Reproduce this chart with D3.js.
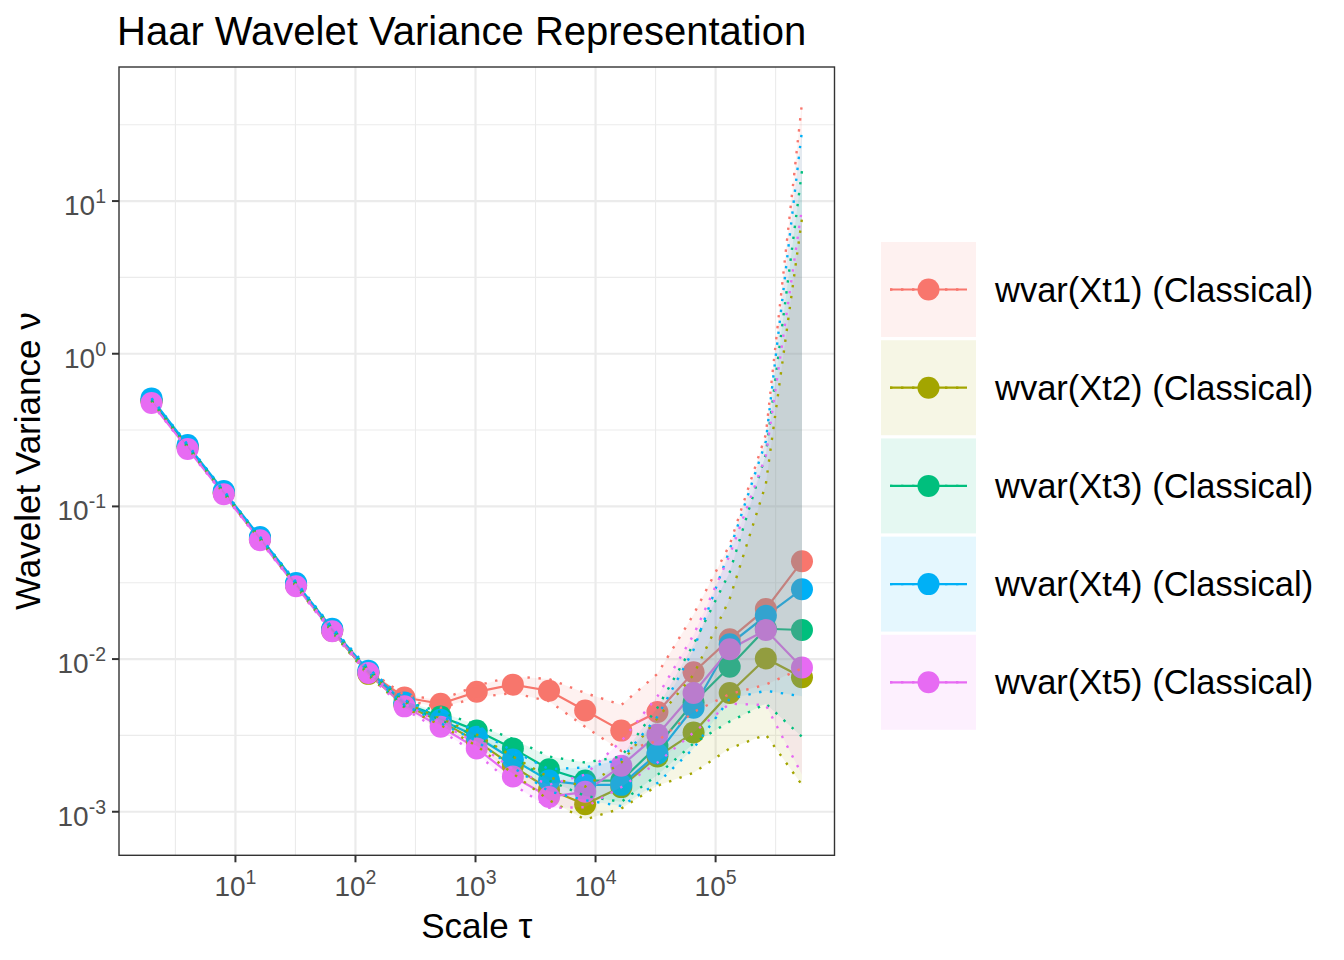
<!DOCTYPE html>
<html>
<head>
<meta charset="utf-8">
<script src="https://cdn.jsdelivr.net/npm/d3@7"></script>
<style>
  body { margin: 0; background: #fff; }
  svg text { font-family: "Liberation Sans", Arial, Helvetica, sans-serif; }
</style>
</head>
<body>
<svg id="chart" width="1344" height="960"></svg>
<script>
// ====== Data ======
const scales = [2, 4, 8, 16, 32, 64, 128, 256, 512, 1024, 2048, 4096, 8192,
  16384, 32768, 65536, 131072, 262144, 524288];

const seriesNames = ["wvar(Xt1) (Classical)", "wvar(Xt2) (Classical)", "wvar(Xt3) (Classical)",
  "wvar(Xt4) (Classical)", "wvar(Xt5) (Classical)"];
const colors = ["#F8766D", "#A3A500", "#00BF7D", "#00B0F6", "#E76BF3"];

// wavelet variance estimates
const xt1 = [0.49, 0.245, 0.123, 0.0615, 0.0305, 0.0155, 0.0082, 0.0056, 0.0051, 0.0061, 0.0068, 0.0062, 0.0046, 0.0034, 0.0045, 0.0082, 0.0135, 0.0213, 0.0437];
const xt2 = [0.49, 0.245, 0.122, 0.061, 0.0305, 0.0153, 0.0080, 0.0050, 0.0039, 0.0029, 0.0020, 0.0014, 0.00112, 0.00145, 0.0023, 0.0033, 0.0060, 0.0101, 0.0076];
const xt3 = [0.495, 0.247, 0.124, 0.062, 0.031, 0.0156, 0.0082, 0.0051, 0.0042, 0.0034, 0.0026, 0.0019, 0.0016, 0.0016, 0.0027, 0.0052, 0.0089, 0.0158, 0.0155];
const xt4 = [0.51, 0.252, 0.126, 0.063, 0.0315, 0.0158, 0.0084, 0.0052, 0.0040, 0.0031, 0.0022, 0.0016, 0.0015, 0.0015, 0.0024, 0.0048, 0.0125, 0.0192, 0.0287];
const xt5 = [0.475, 0.238, 0.120, 0.060, 0.030, 0.0152, 0.0081, 0.0049, 0.0036, 0.0026, 0.0017, 0.00125, 0.00135, 0.0020, 0.0032, 0.0060, 0.0116, 0.0155, 0.0088];

// lower CI bounds
const xt1Low = [0.488, 0.243, 0.122, 0.0607, 0.0300, 0.0152, 0.0080, 0.0054, 0.0048, 0.0056, 0.0060, 0.0053, 0.0036, 0.0025, 0.0029, 0.0045, 0.0059, 0.0068, 0.0087];
const xt2Low = [0.488, 0.243, 0.121, 0.0605, 0.0300, 0.0150, 0.0078, 0.0048, 0.0037, 0.0027, 0.00178, 0.00119, 0.00089, 0.00105, 0.00148, 0.0018, 0.0026, 0.0032, 0.0015];
const xt3Low = [0.493, 0.245, 0.123, 0.0615, 0.0305, 0.0153, 0.0080, 0.0049, 0.0040, 0.0031, 0.0023, 0.0016, 0.00127, 0.00116, 0.00174, 0.0028, 0.0039, 0.0051, 0.0031];
const xt4Low = [0.508, 0.250, 0.125, 0.0625, 0.0310, 0.0155, 0.0082, 0.0050, 0.0038, 0.0029, 0.00195, 0.00136, 0.00119, 0.00109, 0.00154, 0.0026, 0.0055, 0.0062, 0.0057];
const xt5Low = [0.473, 0.236, 0.119, 0.0595, 0.0296, 0.0149, 0.0079, 0.0047, 0.0034, 0.0024, 0.00151, 0.00106, 0.00107, 0.00145, 0.0021, 0.0033, 0.0051, 0.0050, 0.00175];

// upper CI bounds
const xt1High = [0.492, 0.247, 0.124, 0.0623, 0.0310, 0.0158, 0.0085, 0.0058, 0.0054, 0.0067, 0.0077, 0.0074, 0.0060, 0.0050, 0.0080, 0.0196, 0.056, 0.296, 44];
const xt2High = [0.492, 0.247, 0.123, 0.0615, 0.0310, 0.0156, 0.0082, 0.0052, 0.0041, 0.0032, 0.0023, 0.00168, 0.00146, 0.0021, 0.0041, 0.0079, 0.0248, 0.140, 7.7];
const xt3High = [0.497, 0.249, 0.125, 0.0625, 0.0315, 0.0159, 0.0085, 0.0053, 0.0045, 0.0037, 0.0030, 0.0023, 0.0021, 0.0023, 0.0048, 0.0125, 0.037, 0.22, 15.8];
const xt4High = [0.512, 0.254, 0.127, 0.0635, 0.0320, 0.0161, 0.0087, 0.0054, 0.0042, 0.0034, 0.0025, 0.0019, 0.00195, 0.0022, 0.0042, 0.0115, 0.052, 0.267, 29];
const xt5High = [0.477, 0.240, 0.121, 0.0605, 0.0305, 0.0155, 0.0083, 0.0051, 0.0038, 0.0028, 0.0019, 0.0015, 0.00175, 0.0029, 0.0057, 0.0144, 0.048, 0.215, 9.0];

const xTicks = [10, 100, 1000, 10000, 100000];
const xTickExp = ["1", "2", "3", "4", "5"];
const yTicks = [0.001, 0.01, 0.1, 1, 10];
const yTickExp = ["-3", "-2", "-1", "0", "1"];

// ====== Build series ======
const estimates = [xt1, xt2, xt3, xt4, xt5];
const lowers = [xt1Low, xt2Low, xt3Low, xt4Low, xt5Low];
const uppers = [xt1High, xt2High, xt3High, xt4High, xt5High];

const series = seriesNames.map((name, i) => ({
  name, color: colors[i],
  pts: scales.map((s, j) => ({ s, v: estimates[i][j], lo: lowers[i][j], hi: uppers[i][j] }))
}));

// ====== Layout ======
const svg = d3.select("#chart");
const panel = { left: 119, right: 834.5, top: 67, bottom: 855.3 };

// ggplot-like 5% expansion on log axes
function expandLog(lo, hi) {
  const a = Math.log10(lo), b = Math.log10(hi), p = (b - a) * 0.05;
  return [10 ** (a - p), 10 ** (b + p)];
}

const x = d3.scaleLog()
  .domain(expandLog(d3.min(scales), d3.max(scales)))
  .range([panel.left, panel.right]);
const y = d3.scaleLog()
  .domain(expandLog(d3.min(lowers.flat()), d3.max(uppers.flat())))
  .range([panel.bottom, panel.top]);

// minor breaks halfway between majors (in log space)
const xMinor = [10 ** 0.5, 10 ** 1.5, 10 ** 2.5, 10 ** 3.5, 10 ** 4.5, 10 ** 5.5];
const yMinor = [10 ** -2.5, 10 ** -1.5, 10 ** -0.5, 10 ** 0.5, 10 ** 1.5];

// ====== Grid ======
const grid = svg.append("g");
grid.selectAll(".xmin").data(xMinor).join("line")
  .attr("x1", d => x(d)).attr("x2", d => x(d))
  .attr("y1", panel.top).attr("y2", panel.bottom)
  .attr("stroke", "#EBEBEB").attr("stroke-width", 1.1);
grid.selectAll(".ymin").data(yMinor).join("line")
  .attr("y1", d => y(d)).attr("y2", d => y(d))
  .attr("x1", panel.left).attr("x2", panel.right)
  .attr("stroke", "#EBEBEB").attr("stroke-width", 1.1);
grid.selectAll(".xmaj").data(xTicks).join("line")
  .attr("x1", d => x(d)).attr("x2", d => x(d))
  .attr("y1", panel.top).attr("y2", panel.bottom)
  .attr("stroke", "#EBEBEB").attr("stroke-width", 2.2);
grid.selectAll(".ymaj").data(yTicks).join("line")
  .attr("y1", d => y(d)).attr("y2", d => y(d))
  .attr("x1", panel.left).attr("x2", panel.right)
  .attr("stroke", "#EBEBEB").attr("stroke-width", 2.2);

// ====== Marks ======
svg.append("clipPath").attr("id", "clip").append("rect")
  .attr("x", panel.left).attr("y", panel.top)
  .attr("width", panel.right - panel.left).attr("height", panel.bottom - panel.top);
const g = svg.append("g").attr("clip-path", "url(#clip)");

const line = d3.line().x(d => x(d.s)).y(d => y(d.v));
const lowLine = d3.line().x(d => x(d.s)).y(d => y(d.lo));
const highLine = d3.line().x(d => x(d.s)).y(d => y(d.hi));
const band = d3.area().x(d => x(d.s)).y0(d => y(d.lo)).y1(d => y(d.hi));

// estimate lines
g.selectAll(".est").data(series).join("path")
  .attr("d", d => line(d.pts))
  .attr("fill", "none").attr("stroke", d => d.color).attr("stroke-width", 2.2);

// points
series.forEach(sr => {
  g.append("g").selectAll("circle").data(sr.pts).join("circle")
    .attr("cx", d => x(d.s)).attr("cy", d => y(d.v)).attr("r", 11)
    .attr("fill", sr.color);
});

// confidence ribbons (drawn over the points, as in the original)
g.selectAll(".band").data(series).join("path")
  .attr("d", d => band(d.pts))
  .attr("fill", d => d.color).attr("fill-opacity", 0.1);

// dotted CI bounds
const dots = "2.4,8.6";
g.selectAll(".lo").data(series).join("path")
  .attr("d", d => lowLine(d.pts))
  .attr("fill", "none").attr("stroke", d => d.color).attr("stroke-width", 2.4)
  .attr("stroke-dasharray", dots);
g.selectAll(".hi").data(series).join("path")
  .attr("d", d => highLine(d.pts))
  .attr("fill", "none").attr("stroke", d => d.color).attr("stroke-width", 2.4)
  .attr("stroke-dasharray", dots);

// ====== Panel border & axes ======
svg.append("rect")
  .attr("x", panel.left).attr("y", panel.top)
  .attr("width", panel.right - panel.left).attr("height", panel.bottom - panel.top)
  .attr("fill", "none").attr("stroke", "#333333").attr("stroke-width", 1.4);

const axisX = svg.append("g");
axisX.selectAll("line").data(xTicks).join("line")
  .attr("x1", d => x(d)).attr("x2", d => x(d))
  .attr("y1", panel.bottom).attr("y2", panel.bottom + 7)
  .attr("stroke", "#333333").attr("stroke-width", 2);
const xLab = axisX.selectAll("text").data(xTicks).join("text")
  .attr("x", d => x(d)).attr("y", panel.bottom + 41)
  .attr("text-anchor", "middle").attr("fill", "#4D4D4D").attr("font-size", 28);
xLab.append("tspan").text("10");
xLab.append("tspan").attr("dy", -12).attr("font-size", 19.5).text((d, i) => xTickExp[i]);

const axisY = svg.append("g");
axisY.selectAll("line").data(yTicks).join("line")
  .attr("y1", d => y(d)).attr("y2", d => y(d))
  .attr("x1", panel.left - 7).attr("x2", panel.left)
  .attr("stroke", "#333333").attr("stroke-width", 2);
const yLab = axisY.selectAll("text").data(yTicks).join("text")
  .attr("x", panel.left - 13).attr("y", d => y(d) + 14)
  .attr("text-anchor", "end").attr("fill", "#4D4D4D").attr("font-size", 28);
yLab.append("tspan").text("10");
yLab.append("tspan").attr("dy", -12).attr("font-size", 19.5).text((d, i) => yTickExp[i]);

// titles
svg.append("text")
  .attr("x", 117).attr("y", 45)
  .attr("font-size", 40).attr("fill", "#000")
  .text("Haar Wavelet Variance Representation");

svg.append("text")
  .attr("x", (panel.left + panel.right) / 2).attr("y", 938)
  .attr("text-anchor", "middle").attr("font-size", 35).attr("fill", "#000")
  .text("Scale τ");

svg.append("text")
  .attr("transform", `translate(40,${(panel.top + panel.bottom) / 2}) rotate(-90)`)
  .attr("text-anchor", "middle").attr("font-size", 35).attr("fill", "#000")
  .text("Wavelet Variance ν");

// ====== Legend ======
const legend = svg.append("g").attr("transform", "translate(881,242)");
const keySize = 95, keyStep = 98.2;
const item = legend.selectAll("g").data(series).join("g")
  .attr("transform", (d, i) => `translate(0,${i * keyStep})`);
item.append("rect")
  .attr("width", keySize).attr("height", keySize)
  .attr("fill", d => d.color).attr("fill-opacity", 0.1);
item.append("line")
  .attr("x1", 9).attr("x2", keySize - 9)
  .attr("y1", keySize / 2).attr("y2", keySize / 2)
  .attr("stroke", d => d.color).attr("stroke-width", 2.2);
item.append("line")
  .attr("x1", 9).attr("x2", keySize - 9)
  .attr("y1", keySize / 2).attr("y2", keySize / 2)
  .attr("stroke", d => d.color).attr("stroke-width", 2.4)
  .attr("stroke-dasharray", dots);
item.append("circle")
  .attr("cx", keySize / 2).attr("cy", keySize / 2).attr("r", 11)
  .attr("fill", d => d.color);
item.append("text")
  .attr("x", 114).attr("y", keySize / 2 + 12)
  .attr("font-size", 34.5).attr("fill", "#000")
  .text(d => d.name);
</script>
</body>
</html>
